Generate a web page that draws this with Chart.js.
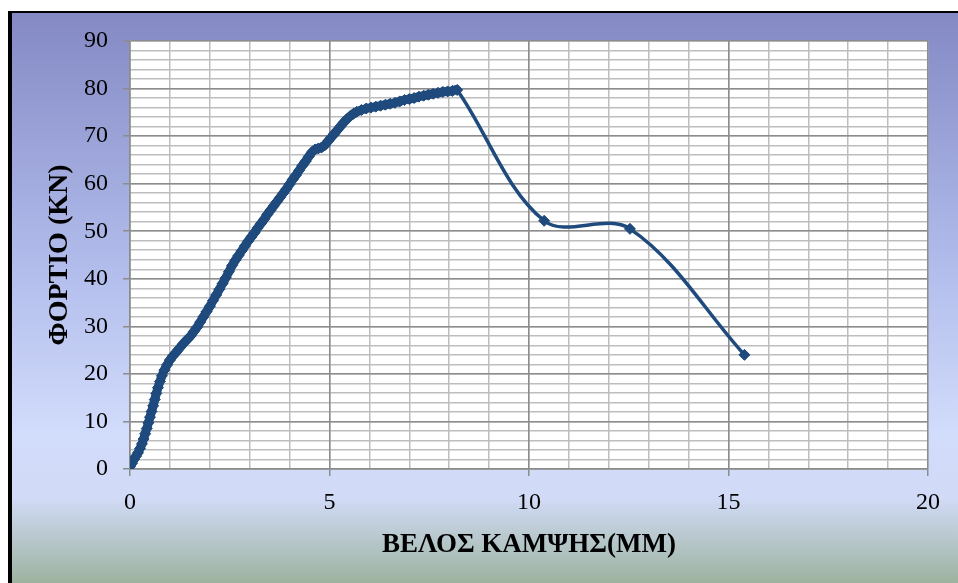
<!DOCTYPE html>
<html>
<head>
<meta charset="utf-8">
<script src="https://cdn.jsdelivr.net/npm/chart.js@4.4.0/dist/chart.umd.min.js"></script>
<style>
  html, body { margin: 0; padding: 0; background: #fff; }
  canvas { display: block; }
</style>
</head>
<body>
<canvas id="fortio" width="958" height="583"></canvas>
<script>
// load - deflection test readings
var deflection = [
  0, 0.05, 0.10, 0.15, 0.20, 0.25, 0.30, 0.34, 0.38, 0.42, 0.46, 0.50, 0.54, 0.58, 0.62, 0.66, 0.70, 0.75, 0.80, 0.86, 0.93,
  1.00, 1.08, 1.16, 1.25, 1.34, 1.43, 1.52, 1.60, 1.68, 1.76, 1.84, 1.92, 2.00, 2.08, 2.16, 2.24, 2.32, 2.40, 2.48, 2.56,
  2.64, 2.72, 2.80, 2.88, 2.96, 3.04, 3.12, 3.20, 3.28, 3.36, 3.44, 3.52, 3.60, 3.68, 3.76, 3.84, 3.92, 4.00, 4.08, 4.16,
  4.24, 4.32, 4.40, 4.48, 4.56, 4.64, 4.72, 4.80, 4.88, 4.96, 5.04, 5.12, 5.20, 5.28, 5.36, 5.44, 5.52, 5.60, 5.68, 5.80,
  5.92, 6.04, 6.16, 6.28, 6.40, 6.52, 6.64, 6.76, 6.88, 7.00, 7.12, 7.24, 7.36, 7.48, 7.60, 7.72, 7.84, 7.96, 8.08, 8.20,
  10.38, 12.53, 15.40
];
var load = [
  0.5, 1.2, 2.0, 2.7, 3.4, 4.3, 5.3, 6.3, 7.4, 8.5, 9.7, 10.9, 12.1, 13.3, 14.6, 15.9, 17.1, 18.4, 19.6, 20.8, 21.9,
  22.9, 23.8, 24.6, 25.5, 26.4, 27.2, 28.0, 28.9, 29.8, 30.9, 32.0, 33.1, 34.2, 35.4, 36.6, 37.8, 39.0, 40.2, 41.5, 42.8,
  43.9, 44.9, 45.9, 46.9, 47.9, 48.8, 49.7, 50.7, 51.6, 52.5, 53.5, 54.4, 55.3, 56.2, 57.1, 58.0, 58.9, 59.9, 60.9, 61.8,
  62.8, 63.8, 64.7, 65.7, 66.6, 67.2, 67.4, 67.6, 68.1, 68.9, 69.7, 70.5, 71.3, 72.1, 72.9, 73.6, 74.2, 74.7, 75.1, 75.5,
  75.8, 76.0, 76.2, 76.4, 76.6, 76.8, 77.0, 77.3, 77.6, 77.8, 78.0, 78.3, 78.5, 78.7, 78.9, 79.1, 79.3, 79.4, 79.5, 79.7,
  52.2, 50.5, 24.0
];

var xTitle = 'ΒΕΛΟΣ ΚΑΜΨΗΣ(ΜΜ)';
var yTitle = 'ΦΟΡΤΙΟ (KN)';
var xRange = [0, 20], xStep = 5, xMinorStep = 1;
var yRange = [0, 90], yStep = 10, yMinorStep = 2;
// up to the peak the readings are so close that the markers merge into a band
var denseUntil = 8.2;

var points = deflection.map(function(d, i) { return {x: d, y: load[i]}; });

var serif = "'Liberation Serif', 'Times New Roman', serif";
var navy = '#1F4A7D';

// gradient panel with the black frame edge, white plot area
var panel = {
  id: 'panel',
  beforeDraw: function(chart) {
    var ctx = chart.ctx, w = chart.width, h = chart.height, a = chart.chartArea;
    ctx.save();
    var g = ctx.createLinearGradient(0, 13, 0, h);
    g.addColorStop(0, '#8489c4');
    g.addColorStop(0.45, '#b2bdec');
    g.addColorStop(0.74, '#d2dcfb');
    g.addColorStop(0.85, '#d1dbf7');
    g.addColorStop(1, '#9db39f');
    ctx.fillStyle = g;
    ctx.fillRect(8, 11, w - 8, h - 11);
    ctx.fillStyle = '#000';
    ctx.fillRect(8, 11, 4, h - 11);
    ctx.fillRect(8, 11, w - 8, 2);
    ctx.fillStyle = '#fff';
    ctx.fillRect(a.left, a.top, a.right - a.left, a.bottom - a.top);
    ctx.restore();
  }
};

Chart.defaults.font.family = serif;
Chart.defaults.color = '#000';

new Chart('fortio', {
  type: 'line',
  data: {
    datasets: [{
      data: points,
      borderColor: navy,
      backgroundColor: navy,
      borderWidth: 3.5,
      segment: {
        borderWidth: function(c) { return c.p1.parsed.x <= denseUntil ? 9 : 3.5; }
      },
      pointStyle: 'rectRot',
      pointRadius: 5.5,
      pointBorderWidth: 1,
      pointBackgroundColor: navy,
      pointBorderColor: navy,
      fill: false,
      tension: 0.35
    }]
  },
  options: {
    responsive: false,
    animation: false,
    devicePixelRatio: 1,
    layout: { padding: { left: 12, top: 41, right: 30, bottom: 0 } },
    plugins: { legend: { display: false }, tooltip: { enabled: false } },
    scales: {
      x: {
        type: 'linear', position: 'bottom',
        min: xRange[0], max: xRange[1],
        ticks: { stepSize: xStep, padding: 12, font: { size: 24 } },
        grid: { color: '#8c8c8c', lineWidth: 1.5, tickLength: 7 },
        border: { color: '#8c8c8c', width: 1.5 },
        title: { display: true, text: xTitle, font: { size: 27, weight: 'bold' }, padding: { top: 0, bottom: 22 } },
        afterFit: function(s) { s.height = 114; }
      },
      y: {
        type: 'linear', position: 'left',
        min: yRange[0], max: yRange[1],
        ticks: { stepSize: yStep, padding: 15, font: { size: 24 } },
        grid: { color: '#8c8c8c', lineWidth: 1.5, tickLength: 7 },
        border: { color: '#8c8c8c', width: 1.5 },
        title: { display: true, text: yTitle, font: { size: 28, weight: 'bold' }, padding: { top: 31, bottom: 0 } },
        afterFit: function(s) { s.width = 118; }
      },
      xMinor: {
        type: 'linear', position: 'top',
        min: xRange[0], max: xRange[1],
        ticks: { display: false, stepSize: xMinorStep },
        grid: { color: '#bdbdbd', lineWidth: 1.5, drawTicks: false, z: -2 },
        border: { display: false },
        afterFit: function(s) { s.height = 0; }
      },
      yMinor: {
        type: 'linear', position: 'right',
        min: yRange[0], max: yRange[1],
        ticks: { display: false, stepSize: yMinorStep },
        grid: { color: '#bdbdbd', lineWidth: 1.5, drawTicks: false, z: -2 },
        border: { display: false },
        afterFit: function(s) { s.width = 0; }
      }
    }
  },
  plugins: [panel]
});
</script>
</body>
</html>
